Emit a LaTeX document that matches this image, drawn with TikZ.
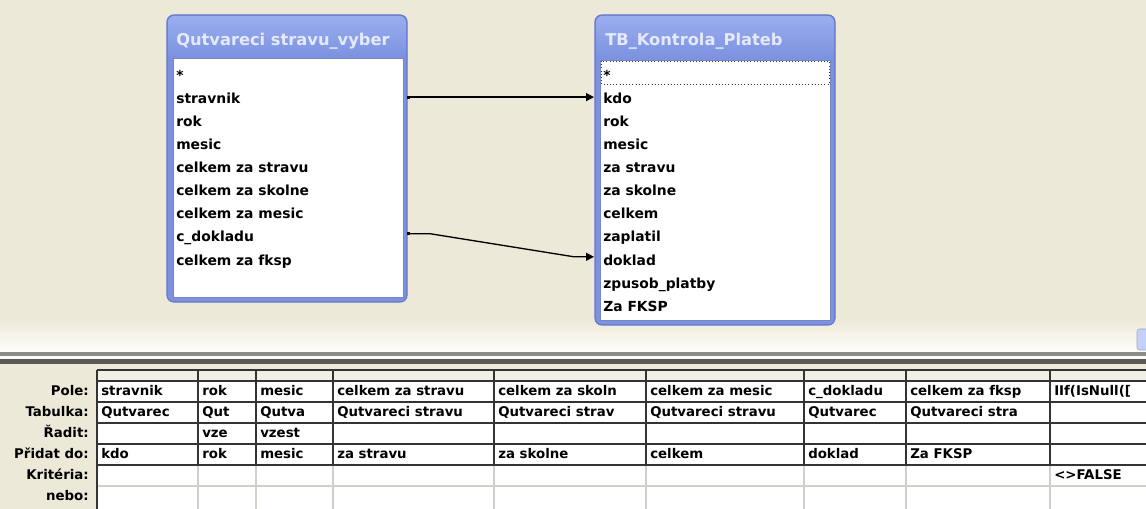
\documentclass[tikz,border=0pt]{standalone}
\usepackage{fontspec}
\setmainfont{DejaVu Sans}
\usetikzlibrary{positioning,arrows.meta}

\definecolor{panel}{RGB}{236,233,216}
\definecolor{winblue}{RGB}{124,146,224}
\definecolor{winbluetop}{RGB}{154,174,238}
\definecolor{winedge}{RGB}{98,118,204}
\definecolor{captiontext}{RGB}{228,234,251}
\definecolor{listedge}{RGB}{118,134,190}
\definecolor{gridlight}{RGB}{208,207,200}
\definecolor{headcell}{RGB}{242,240,230}
\definecolor{scrollblue}{RGB}{196,210,247}

\tikzset{
  fieldrow/.style={anchor=west, inner sep=0pt, text height=7pt, text depth=0.6pt,
    font=\fontsize{10.4}{12}\selectfont\bfseries},
  wintitle/.style={anchor=west, inner sep=0pt, text=captiontext,
    font=\fontsize{12.2}{14}\selectfont\bfseries},
  gridcell/.style={anchor=west, inner sep=0pt, text height=6.8pt, text depth=0.5pt,
    font=\fontsize{10}{12}\selectfont\bfseries},
  rowlabel/.style={gridcell, anchor=east},
  winframe/.style={fill=winblue, draw=winedge, line width=0.8pt, rounded corners=5pt},
  relation/.style={line width=1pt, {Square[length=2.2pt,width=2.2pt]}-{Triangle[length=6pt,width=6pt]}},
  gridrule/.style={line width=1.1pt, black!80},
  gridfaint/.style={line width=0.8pt, gridlight},
}

\begin{document}
\begin{tikzpicture}[x=0.75pt,y=-0.75pt]
  \useasboundingbox (0,0) rectangle (1146,509);
  \fill[panel] (0,0) rectangle (1146,509);
  \shade[top color=panel, bottom color=white!90!panel] (0,318) rectangle (1146,352);
  \draw[scrollblue!80!black, fill=scrollblue, rounded corners=2pt] (1137,329) rectangle (1152,350);

  % splitter bar
  \fill[black!45] (0,352) rectangle (1146,356);
  \fill[white!85!panel] (0,356) rectangle (1146,359);
  \fill[black!65] (0,359) rectangle (1146,364);

  % source query
  \path[winframe] (167,15) rectangle (407,302);
  \shade[top color=winbluetop, bottom color=winblue, rounded corners=5pt]
    (168,57) -- (168,16) -- (406,16) -- (406,57) -- cycle;
  \draw[listedge, fill=white] (173,58) rectangle (403,297);
  \node[wintitle] (sv) at (176,41) {Qutvareci stravu\_vyber};
  \node[fieldrow] (sv-star) at (176,76) {*};
  \node[fieldrow] (sv-stravnik) at (176,99.1) {stravnik};
  \node[fieldrow] (sv-rok) at (176,122.2) {rok};
  \node[fieldrow] (sv-mesic) at (176,145.3) {mesic};
  \node[fieldrow] (sv-stravu) at (176,168.4) {celkem za stravu};
  \node[fieldrow] (sv-skolne) at (176,191.5) {celkem za skolne};
  \node[fieldrow] (sv-celkem) at (176,214.6) {celkem za mesic};
  \node[fieldrow] (sv-cdokladu) at (176,237.7) {c\_dokladu};
  \node[fieldrow] (sv-fksp) at (176,260.8) {celkem za fksp};
  \coordinate (sv-edge) at (407,0);

  % target table
  \path[winframe] (595,15) rectangle (835,325);
  \shade[top color=winbluetop, bottom color=winblue, rounded corners=5pt]
    (596,58) -- (596,16) -- (834,16) -- (834,58) -- cycle;
  \draw[listedge, fill=white] (600,60) rectangle (830,320);
  \node[wintitle] (kp) at (605,41) {TB\_Kontrola\_Plateb};
  \draw[dotted, black!80] (601,61) rectangle (829,84);
  \node[fieldrow] (kp-star) at (603,76) {*};
  \node[fieldrow] (kp-kdo) at (603,99.1) {kdo};
  \node[fieldrow] (kp-rok) at (603,122.2) {rok};
  \node[fieldrow] (kp-mesic) at (603,145.3) {mesic};
  \node[fieldrow] (kp-stravu) at (603,168.4) {za stravu};
  \node[fieldrow] (kp-skolne) at (603,191.5) {za skolne};
  \node[fieldrow] (kp-celkem) at (603,214.6) {celkem};
  \node[fieldrow] (kp-zaplatil) at (603,237.7) {zaplatil};
  \node[fieldrow] (kp-doklad) at (603,260.8) {doklad};
  \node[fieldrow] (kp-zpusob) at (603,283.9) {zpusob\_platby};
  \node[fieldrow] (kp-fksp) at (603,307) {Za FKSP};
  \coordinate (kp-edge) at (594,0);

  % joins
  \draw[relation] ([yshift=1.5pt]sv-stravnik -| sv-edge) -- ([yshift=1.5pt]kp-kdo -| kp-edge);
  \draw[relation] ([yshift=3pt]sv-cdokladu -| sv-edge) -- ++(23,0)
    -- ([xshift=-15pt,yshift=3pt]kp-doklad -| kp-edge) -- ([yshift=3pt]kp-doklad -| kp-edge);

  % design grid
  \fill[white] (97,381) rectangle (1146,509);
  \fill[headcell] (97,370) rectangle (1146,381);
  \draw[gridfaint] (97,486) -- (1146,486);
  \draw[gridfaint] (198,465) -- (198,509) (256,465) -- (256,509) (333,465) -- (333,509)
    (494,465) -- (494,509) (646,465) -- (646,509) (804,465) -- (804,509)
    (906,465) -- (906,509) (1050,465) -- (1050,509);
  \draw[gridrule] (97,370) -- (1146,370) (97,381) -- (1146,381) (97,402) -- (1146,402)
    (97,423) -- (1146,423) (97,444) -- (1146,444);
  \draw[gridrule, line width=1.5pt] (97,465) -- (1146,465);
  \draw[gridrule] (97,370) -- (97,509) (198,370) -- (198,465) (256,370) -- (256,465)
    (333,370) -- (333,465) (494,370) -- (494,465) (646,370) -- (646,465)
    (804,370) -- (804,465) (906,370) -- (906,465) (1050,370) -- (1050,465);

  \node[rowlabel] (pole) at (89,391) {Pole:};
  \node[rowlabel] (tabulka) at (89,412) {Tabulka:};
  \node[rowlabel] (radit) at (89,433) {Řadit:};
  \node[rowlabel] (pridat) at (89,454) {Přidat do:};
  \node[rowlabel] (kriteria) at (89,475) {Kritéria:};
  \node[rowlabel] (nebo) at (89,496) {nebo:};

  \node[gridcell] at (101,391) {stravnik};
  \node[gridcell] at (202,391) {rok};
  \node[gridcell] at (260,391) {mesic};
  \node[gridcell] at (337,391) {celkem za stravu};
  \node[gridcell] at (498,391) {celkem za skoln};
  \node[gridcell] at (650,391) {celkem za mesic};
  \node[gridcell] at (808,391) {c\_dokladu};
  \node[gridcell] at (910,391) {celkem za fksp};
  \node[gridcell] at (1054,391) {IIf(IsNull([};

  \node[gridcell] at (101,412) {Qutvarec};
  \node[gridcell] at (202,412) {Qut};
  \node[gridcell] at (260,412) {Qutva};
  \node[gridcell] at (337,412) {Qutvareci stravu};
  \node[gridcell] at (498,412) {Qutvareci strav};
  \node[gridcell] at (650,412) {Qutvareci stravu};
  \node[gridcell] at (808,412) {Qutvarec};
  \node[gridcell] at (910,412) {Qutvareci stra};

  \node[gridcell] at (202,433) {vze};
  \node[gridcell] at (260,433) {vzest};

  \node[gridcell] at (101,454) {kdo};
  \node[gridcell] at (202,454) {rok};
  \node[gridcell] at (260,454) {mesic};
  \node[gridcell] at (337,454) {za stravu};
  \node[gridcell] at (498,454) {za skolne};
  \node[gridcell] at (650,454) {celkem};
  \node[gridcell] at (808,454) {doklad};
  \node[gridcell] at (910,454) {Za FKSP};

  \node[gridcell] at (1054,475) {<>FALSE};
\end{tikzpicture}
\end{document}
